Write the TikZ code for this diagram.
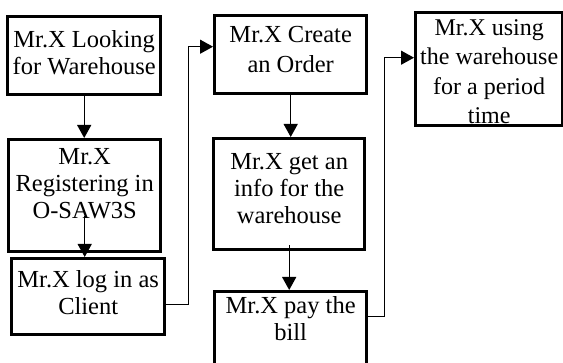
\documentclass[tikz,border=0pt]{standalone}
\usepackage{fontspec}
\setmainfont{Liberation Serif}
\usetikzlibrary{arrows.meta}
\tikzset{
  box/.style={draw=black, line width=3.4pt, fill=white, inner sep=0pt, anchor=north west},
  txt/.style={anchor=north, inner sep=0pt, align=center, font=\fontsize{24.5}{27}\selectfont},
  conn/.style={draw=black, line width=1.4pt, -{Triangle[length=13pt,width=14pt]}},
  plain/.style={draw=black, line width=1.4pt}
}
\begin{document}
\begin{tikzpicture}[x=1pt,y=-1pt]
\useasboundingbox (0,0) rectangle (563,363);
% boxes
\node[box, minimum width=153pt, minimum height=78pt] (b1) at (6,15) {};
\node[box, minimum width=152pt, minimum height=112pt] (b2) at (7,138) {};
\node[box, minimum width=153pt, minimum height=76pt] (b3) at (10,257) {};
\node[box, minimum width=152pt, minimum height=78pt] (b4) at (213,14) {};
\node[box, minimum width=151pt, minimum height=111pt] (b5) at (212,137) {};
\node[box, minimum width=152pt, minimum height=85pt] (b6) at (213,290) {};
\node[box, minimum width=147pt, minimum height=113pt] (b7) at (414,11) {};
% texts
\node[txt, yshift=-15pt] (t1) at (b1.north) {Mr.X Looking\\for Warehouse};
\node[txt, yshift=-10pt] (t2) at (b2.north) {Mr.X\\Registering in\\O-SAW3S};
\node[txt, yshift=-13pt] (t3) at (b3.north) {Mr.X log in as\\Client};
\node[txt, yshift=-12pt, font=\fontsize{24.5}{30}\selectfont] (t4) at (b4.north) {Mr.X Create\\an Order};
\node[txt, yshift=-16pt] (t5) at (b5.north) {Mr.X get an\\info for the\\warehouse};
\node[txt, yshift=-6pt] (t6) at (b6.north) {Mr.X pay the\\bill};
\node[txt, yshift=-8pt, font=\fontsize{24}{29.5}\selectfont] (t7) at (b7.north) {Mr.X using\\the warehouse\\for a period\\time};
% connectors
\draw[conn] (b1.south) -- (b1.south |- b2.north);
\draw[conn] ([yshift=37pt]b2.south) -- (b2.south |- b3.north);
\draw[conn] (b4.south) -- (b4.south |- b5.north);
\draw[conn] ([yshift=6pt]b5.south) -- (b5.south |- b6.north);
\coordinate (c3) at ([yshift=-8pt]b3.east);
\coordinate (c4) at ([yshift=8pt]b4.west);
\draw[conn] (c3) -- ++(22,0) |- (c4);
\coordinate (c6) at ([yshift=17.5pt]b6.east);
\coordinate (c7) at ([yshift=11.5pt]b7.west);
\draw[conn] (c6) -- ++(16,0) |- (c7);
\end{tikzpicture}
\end{document}
